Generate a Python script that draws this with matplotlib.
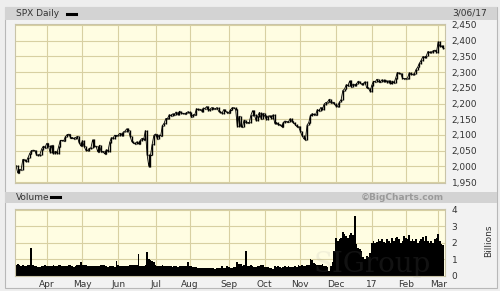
import numpy as np
import pandas as pd
import matplotlib
matplotlib.use("Agg")
import matplotlib.pyplot as plt
from matplotlib.patches import Rectangle
from matplotlib.lines import Line2D
from matplotlib.ticker import FuncFormatter

# ---------------- data ----------------
holidays = ["2016-03-25", "2016-05-30", "2016-07-04", "2016-09-05", "2016-11-24",
            "2016-12-26", "2017-01-02", "2017-01-16", "2017-02-20"]
dates = pd.bdate_range("2016-03-07", "2017-03-06", freq="C", holidays=holidays)

close_mar16 = [2001.76, 1979.26, 1989.26, 1989.57, 2022.19, 2019.64, 2015.93, 2027.22, 2040.59, 2049.58,
               2051.60, 2049.80, 2036.71, 2035.94, 2037.05, 2055.01, 2063.95, 2059.74]
close_apr16 = [2072.78, 2066.13, 2045.17, 2066.66, 2041.91, 2047.60, 2041.99, 2061.72, 2082.42, 2082.78,
               2080.73, 2094.34, 2100.80, 2102.40, 2091.48, 2091.58, 2087.79, 2091.70, 2095.15, 2075.81, 2065.30]
close_may16 = [2081.43, 2063.37, 2051.12, 2050.63, 2057.14, 2058.69, 2084.39, 2064.46, 2064.11, 2046.61,
               2066.66, 2047.21, 2047.63, 2040.04, 2052.32, 2048.04, 2076.06, 2090.54, 2090.10, 2099.06, 2096.95]
close_jun16 = [2099.33, 2105.26, 2099.13, 2109.41, 2112.13, 2119.12, 2115.48, 2096.07, 2079.06, 2075.32,
               2071.50, 2077.99, 2071.22, 2083.25, 2088.90, 2085.45, 2113.32, 2037.41, 2000.54, 2036.09,
               2070.77, 2098.86]
close_jul16 = [2102.95, 2088.55, 2099.73, 2097.90, 2129.90, 2137.16, 2152.14, 2152.43, 2163.75, 2161.74,
               2166.89, 2163.78, 2173.02, 2165.17, 2175.03, 2168.48, 2169.18, 2166.58, 2170.06, 2173.60]
close_aug16 = [2170.84, 2157.03, 2163.79, 2164.25, 2182.87, 2180.89, 2181.74, 2175.49, 2185.79, 2184.05,
               2190.15, 2178.15, 2182.22, 2187.02, 2183.87, 2182.64, 2186.90, 2175.44, 2172.47, 2169.04,
               2180.38, 2176.12, 2170.95]
close_sep16 = [2170.86, 2179.98, 2186.48, 2186.16, 2181.30, 2127.81, 2159.04, 2127.02, 2125.77, 2147.26,
               2139.16, 2139.12, 2139.76, 2163.12, 2177.18, 2164.69, 2146.10, 2159.93, 2171.37, 2151.13, 2168.27]
close_oct16 = [2161.20, 2150.49, 2159.73, 2160.77, 2153.74, 2163.66, 2136.73, 2139.18, 2132.55, 2132.98,
               2126.50, 2139.60, 2144.29, 2141.34, 2141.16, 2151.33, 2143.16, 2139.43, 2133.04, 2126.41, 2126.15]
close_nov16 = [2111.72, 2097.94, 2088.66, 2085.18, 2131.52, 2139.56, 2163.26, 2167.48, 2164.45, 2164.20,
               2180.39, 2176.94, 2187.12, 2181.90, 2198.18, 2202.94, 2204.72, 2213.35, 2201.72, 2204.66, 2198.81]
close_dec16 = [2191.08, 2191.95, 2204.71, 2212.23, 2241.35, 2246.19, 2259.53, 2256.96, 2271.72, 2253.28,
               2262.03, 2258.07, 2262.53, 2270.76, 2265.18, 2260.96, 2263.79, 2268.88, 2249.92, 2249.26, 2238.83]
close_jan17 = [2257.83, 2270.75, 2269.00, 2276.98, 2268.90, 2268.90, 2275.32, 2270.44, 2274.64, 2267.89,
               2271.89, 2263.69, 2271.31, 2265.20, 2280.07, 2298.37, 2296.68, 2294.69, 2280.90, 2278.87]
close_feb17 = [2279.55, 2280.85, 2297.42, 2292.56, 2293.08, 2294.67, 2307.87, 2316.10, 2328.25, 2337.58,
               2349.25, 2347.22, 2351.16, 2365.38, 2362.82, 2363.81, 2367.34, 2369.75, 2363.64]
close_mar17 = [2395.96, 2381.92, 2383.12, 2375.31]

vol_mar16 = [0.62, 0.68, 0.63, 0.60, 0.66, 0.58, 0.60, 0.64, 0.62, 1.70, 0.62, 0.55, 0.58, 0.52, 0.50, 0.58, 0.60, 0.62]
vol_apr16 = [0.58, 0.55, 0.60, 0.58, 0.62, 0.56, 0.55, 0.62, 0.64, 0.58, 0.57, 0.55, 0.60, 0.62, 0.62, 0.58,
             0.54, 0.57, 0.62, 0.66, 0.80]
vol_may16 = [0.62, 0.66, 0.62, 0.60, 0.56, 0.55, 0.58, 0.60, 0.60, 0.58, 0.55, 0.62, 0.66, 0.62, 0.58, 0.52,
             0.58, 0.60, 0.55, 0.52, 0.90]
vol_jun16 = [0.62, 0.60, 0.56, 0.55, 0.58, 0.60, 0.58, 0.62, 0.64, 0.62, 0.66, 0.64, 1.33, 0.60, 0.58, 0.60,
             0.62, 1.43, 1.00, 0.95, 0.90, 0.80]
vol_jul16 = [0.62, 0.60, 0.58, 0.55, 0.62, 0.55, 0.58, 0.56, 0.55, 0.57, 0.52, 0.55, 0.58, 0.54, 0.58, 0.55,
             0.56, 0.58, 0.60, 0.80]
vol_aug16 = [0.58, 0.55, 0.52, 0.50, 0.52, 0.45, 0.48, 0.46, 0.48, 0.44, 0.44, 0.45, 0.48, 0.44, 0.46, 0.42,
             0.46, 0.48, 0.44, 0.55, 0.45, 0.48, 0.60]
vol_sep16 = [0.50, 0.45, 0.48, 0.50, 0.52, 0.80, 0.72, 0.68, 0.60, 0.62, 1.47, 0.55, 0.56, 0.62, 0.58, 0.50,
             0.50, 0.55, 0.58, 0.62, 0.66]
vol_oct16 = [0.52, 0.50, 0.50, 0.48, 0.46, 0.42, 0.55, 0.52, 0.56, 0.50, 0.48, 0.50, 0.55, 0.52, 0.60, 0.52,
             0.50, 0.52, 0.55, 0.54, 0.62]
vol_nov16 = [0.58, 0.62, 0.58, 0.56, 0.62, 0.66, 1.00, 0.92, 0.75, 0.70, 0.66, 0.62, 0.62, 0.72, 0.55, 0.58,
             0.50, 0.25, 0.55, 0.85, 1.50]
vol_dec16 = [2.30, 2.10, 2.20, 2.30, 2.65, 2.55, 2.40, 2.30, 2.50, 2.60, 2.45, 3.65, 1.90, 1.70, 1.60, 1.50,
             1.10, 1.00, 1.20, 1.10, 1.40]
vol_jan17 = [2.00, 2.10, 2.00, 2.05, 2.20, 2.10, 2.20, 2.05, 2.00, 2.20, 2.10, 2.00, 2.30, 2.10, 2.30, 2.35,
             2.20, 2.00, 2.10, 2.40]
vol_feb17 = [2.30, 2.20, 2.50, 2.10, 2.20, 2.10, 2.20, 2.00, 2.10, 2.20, 2.35, 2.10, 2.40, 2.10, 2.00, 2.10,
             2.00, 2.20, 2.30]
vol_mar17 = [2.55, 2.10, 1.90, 1.85]

month_labels = ["Apr", "May", "Jun", "Jul", "Aug", "Sep", "Oct", "Nov", "Dec", "17", "Feb", "Mar"]
price_ticks = [1950, 2000, 2050, 2100, 2150, 2200, 2250, 2300, 2350, 2400, 2450]
volume_ticks = [0, 1, 2, 3, 4]

close = np.array(close_mar16 + close_apr16 + close_may16 + close_jun16 + close_jul16 + close_aug16 +
                 close_sep16 + close_oct16 + close_nov16 + close_dec16 + close_jan17 + close_feb17 + close_mar17)
volume = np.array(vol_mar16 + vol_apr16 + vol_may16 + vol_jun16 + vol_jul16 + vol_aug16 + vol_sep16 +
                  vol_oct16 + vol_nov16 + vol_dec16 + vol_jan17 + vol_feb17 + vol_mar17)
n = min(len(dates), len(close), len(volume))
dates = dates[:n]
close = close[:n]
volume = volume[:n]
x = np.arange(n)

# month start positions (trading-day index)
month_pos = []
for i in range(1, n):
    if dates[i].month != dates[i - 1].month:
        month_pos.append(i)

# ---------------- figure ----------------
W, H = 500, 291
fig = plt.figure(figsize=(W / 100, H / 100), dpi=100)
fig.patch.set_facecolor("#eeeeee")

def rect(x0, y0, x1, y1, **kw):
    fig.add_artist(Rectangle((x0 / W, 1 - y1 / H), (x1 - x0) / W, (y1 - y0) / H,
                             transform=fig.transFigure, **kw))

# outer frame
rect(5, 7, 497, 288, facecolor="#f2f2f2", edgecolor="#b8b8b8", linewidth=0.8, zorder=0)
# header bars
rect(5, 7, 497, 20, facecolor="#d3d3d3", edgecolor="none", zorder=0.5)
rect(5, 191.5, 497, 202.5, facecolor="#d3d3d3", edgecolor="none", zorder=0.5)

BG = "#fffde2"
GRID = "#d8d0a2"
TXT = "#333333"
FS = 6.5

def ax_box(x0, y0, x1, y1):
    return [x0 / W, 1 - y1 / H, (x1 - x0) / W, (y1 - y0) / H]

axp = fig.add_axes(ax_box(15, 24, 445.3, 182.7))
axv = fig.add_axes(ax_box(15, 209.3, 445.3, 276))

xlim = (-0.6, n + 0.2)
for ax in (axp, axv):
    ax.set_facecolor(BG)
    ax.set_xlim(*xlim)
    ax.set_xticks(month_pos)
    for s in ax.spines.values():
        s.set_color("#c9c4a8")
        s.set_linewidth(0.8)
    ax.grid(True, color=GRID, linewidth=0.8)
    ax.set_axisbelow(True)
    ax.yaxis.tick_right()
    ax.tick_params(axis="both", length=0, labelsize=FS, colors=TXT, pad=4.6)

# price: bar-style daily marks (from previous close to close) plus close ticks
prev = np.concatenate([[close[0]], close[:-1]])
lo = np.minimum(prev, close) - 1.5
hi = np.maximum(prev, close) + 1.5
axp.vlines(x, lo, hi, color="black", linewidth=1.0)
axp.hlines(close, x, x + 0.6, color="black", linewidth=0.9)
axp.plot(x, close, color="black", linewidth=0.6)
axp.set_ylim(1948, 2453)
axp.set_yticks(price_ticks)
axp.yaxis.set_major_formatter(FuncFormatter(lambda v, p: f"{int(v):,}"))
axp.set_xticklabels([])

# volume
axv.bar(x, volume, width=1.0, color="black", linewidth=0)
axv.set_ylim(-0.03, 4.04)
axv.set_yticks(volume_ticks)
axv.set_xticklabels(month_labels[:len(month_pos)])
axv.tick_params(axis="x", pad=3.0)

# header texts
fig.text(16 / W, 1 - 13.5 / H, "SPX Daily", fontsize=FS, color=TXT, va="center", ha="left")
fig.add_artist(Line2D([67 / W, 76 / W], [1 - 13.5 / H] * 2, color="black", linewidth=2.2,
                      transform=fig.transFigure))
fig.text(16 / W, 1 - 197 / H, "Volume", fontsize=FS, color=TXT, va="center", ha="left")
fig.add_artist(Line2D([51 / W, 60 / W], [1 - 197 / H] * 2, color="black", linewidth=2.2,
                      transform=fig.transFigure))
fig.text(452 / W, 1 - 13.5 / H, "3/06/17", fontsize=FS, color=TXT, va="center", ha="left")
fig.text(444 / W, 1 - 197 / H, "\u00a9BigCharts.com", fontsize=6.5, color="#9a9a9a",
         fontweight="bold", va="center", ha="right")
fig.text(489 / W, 1 - 241 / H, "Billions", fontsize=FS, color=TXT, va="center", ha="center",
         rotation=90)

# faint watermark
fig.text(372 / W, 1 - 264 / H, "SIGroup", fontsize=20, color="#9a9a9a", alpha=0.12,
         va="center", ha="center", family="DejaVu Serif")

fig.savefig("out.png", dpi=100, facecolor=fig.get_facecolor())
